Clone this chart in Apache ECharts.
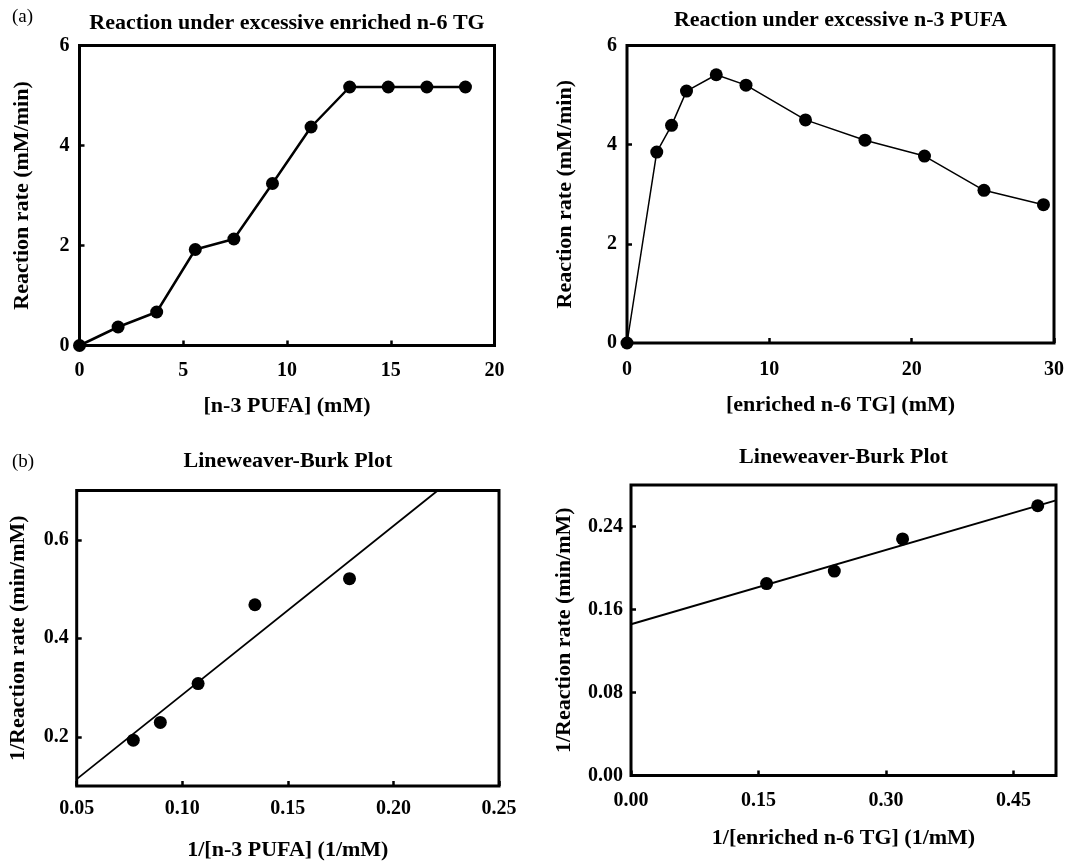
<!DOCTYPE html>
<html>
<head>
<meta charset="utf-8">
<script src="https://cdn.jsdelivr.net/npm/echarts@6/dist/echarts.min.js"></script>
<style>
html,body{margin:0;padding:0;background:#fff;}
#c{width:1067px;height:862px;}
</style>
</head>
<body>
<div id="c"></div>
<script>
// Panel (a) left: reaction under excessive enriched n-6 TG
var p1X = [0, 1.86, 3.72, 5.58, 7.44, 9.3, 11.16, 13.02, 14.88, 16.74, 18.6];
var p1Y = [0, 0.37, 0.67, 1.92, 2.13, 3.24, 4.37, 5.17, 5.17, 5.17, 5.17];
// Panel (a) right: reaction under excessive n-3 PUFA
var p2X = [0, 2.09, 3.13, 4.18, 6.27, 8.36, 12.54, 16.72, 20.9, 25.08, 29.26];
var p2Y = [0, 3.85, 4.39, 5.08, 5.41, 5.2, 4.5, 4.09, 3.77, 3.08, 2.79];
// Panel (b) left: Lineweaver-Burk (n-3 PUFA)
var p3X = [0.0768, 0.0896, 0.1075, 0.1344, 0.1792];
var p3Y = [0.193, 0.229, 0.308, 0.468, 0.521];
var p3FitX = [0.05, 0.221];
var p3FitY = [0.114, 0.70];
// Panel (b) right: Lineweaver-Burk (enriched n-6 TG)
var p4X = [0.1595, 0.2392, 0.3195, 0.4785];
var p4Y = [0.185, 0.197, 0.228, 0.26];
var p4FitX = [0, 0.5];
var p4FitY = [0.1458, 0.2652];

// tick labels
var p1XTicks = [0, 5, 10, 15, 20];
var p1YTicks = [0, 2, 4, 6];
var p2XTicks = [0, 10, 20, 30];
var p2YTicks = [0, 2, 4, 6];
var p3XTicks = [0.05, 0.10, 0.15, 0.20, 0.25];
var p3YTicks = [0.2, 0.4, 0.6];
var p4XTicks = [0, 0.15, 0.30, 0.45];
var p4YTicks = [0, 0.08, 0.16, 0.24];

var titles = ['Reaction under excessive enriched n-6 TG', 'Reaction under excessive n-3 PUFA', 'Lineweaver-Burk Plot', 'Lineweaver-Burk Plot'];
var xNames = ['[n-3 PUFA] (mM)', '[enriched n-6 TG] (mM)', '1/[n-3 PUFA] (1/mM)', '1/[enriched n-6 TG] (1/mM)'];
var yNames = ['Reaction rate (mM/min)', 'Reaction rate (mM/min)', '1/Reaction rate (min/mM)', '1/Reaction rate (min/mM)'];

function zip(a, b) { return a.map(function (v, i) { return [v, b[i]]; }); }

var FONT = '"Liberation Serif", "Times New Roman", serif';
var grids = [
  {left: 79.5, top: 45.5, width: 415, height: 300},
  {left: 627, top: 45.5, width: 427, height: 297.5},
  {left: 76.7, top: 490.5, width: 422.3, height: 296.5},
  {left: 631, top: 485, width: 425, height: 290.5}
];
var titleTops = [12, 9, 450, 446];
var xNameGaps = [50, 51, 53, 52];
var yNameGaps = [46, 51, 47, 56];
var xMargins = [15, 17, 13, 15];
var yMargins = [10, 10, 8, 8];
var xRanges = [[0, 20], [0, 30], [0.05, 0.25], [0, 0.5]];
var yRanges = [[0, 6], [0, 6], [0.1, 0.7], [0, 0.28]];
var xTicks = [p1XTicks, p2XTicks, p3XTicks, p4XTicks];
var yTicks = [p1YTicks, p2YTicks, p3YTicks, p4YTicks];
var xFmt = [0, 0, 2, 2];
var yFmt = [0, 0, 1, 2];

var option = {
  animation: false,
  backgroundColor: '#fff',
  title: [],
  grid: [],
  xAxis: [],
  yAxis: [],
  series: [],
  graphic: [
    {type: 'text', left: 12, top: 8, style: {text: '(a)', font: '19px ' + FONT, fill: '#000'}},
    {type: 'text', left: 12, top: 453, style: {text: '(b)', font: '19px ' + FONT, fill: '#000'}}
  ]
};

for (var i = 0; i < 4; i++) {
  var g = grids[i];
  option.grid.push({left: g.left, top: g.top, width: g.width, height: g.height, show: true, borderColor: '#000', borderWidth: 3, backgroundColor: 'transparent', containLabel: false});
  option.title.push({
    text: titles[i], left: g.left + g.width / 2, top: titleTops[i], textAlign: 'center', padding: 0,
    textStyle: {fontFamily: FONT, fontWeight: 'bold', fontSize: 22, color: '#000'}
  });
  (function (i) {
    option.xAxis.push({
      type: 'value', gridIndex: i, min: xRanges[i][0], max: xRanges[i][1],
      name: xNames[i], nameLocation: 'middle', nameGap: xNameGaps[i],
      nameTextStyle: {fontFamily: FONT, fontWeight: 'bold', fontSize: 22, color: '#000'},
      axisLine: {show: false},
      axisTick: {show: true, inside: true, length: 5, lineStyle: {color: '#000', width: 2.5}, customValues: xTicks[i]},
      axisLabel: {show: true, margin: xMargins[i], customValues: xTicks[i], fontFamily: FONT, fontWeight: 'bold', fontSize: 20, color: '#000',
        formatter: function (v) { return Number(v).toFixed(xFmt[i]); }},
      splitLine: {show: false}
    });
    option.yAxis.push({
      type: 'value', gridIndex: i, min: yRanges[i][0], max: yRanges[i][1],
      name: yNames[i], nameLocation: 'middle', nameGap: yNameGaps[i], nameRotate: 90,
      nameTextStyle: {fontFamily: FONT, fontWeight: 'bold', fontSize: 22, color: '#000'},
      axisLine: {show: false},
      axisTick: {show: true, inside: true, length: 5, lineStyle: {color: '#000', width: 2.5}, customValues: yTicks[i]},
      axisLabel: {show: true, margin: yMargins[i], customValues: yTicks[i], fontFamily: FONT, fontWeight: 'bold', fontSize: 20, color: '#000',
        formatter: function (v) { return Number(v).toFixed(yFmt[i]); }},
      splitLine: {show: false}
    });
  })(i);
}

var dot = {color: '#000', opacity: 1};
option.series.push({
  type: 'line', xAxisIndex: 0, yAxisIndex: 0, data: zip(p1X, p1Y),
  symbol: 'circle', symbolSize: 13, lineStyle: {color: '#000', width: 2.5}, itemStyle: dot
});
option.series.push({
  type: 'line', xAxisIndex: 1, yAxisIndex: 1, data: zip(p2X, p2Y),
  symbol: 'circle', symbolSize: 13, lineStyle: {color: '#000', width: 1.5}, itemStyle: dot
});
option.series.push({
  type: 'line', xAxisIndex: 2, yAxisIndex: 2, data: zip(p3FitX, p3FitY),
  symbol: 'none', lineStyle: {color: '#000', width: 1.8}
});
option.series.push({
  type: 'scatter', xAxisIndex: 2, yAxisIndex: 2, data: zip(p3X, p3Y),
  symbol: 'circle', symbolSize: 13, itemStyle: dot
});
option.series.push({
  type: 'line', xAxisIndex: 3, yAxisIndex: 3, data: zip(p4FitX, p4FitY),
  symbol: 'none', lineStyle: {color: '#000', width: 2}
});
option.series.push({
  type: 'scatter', xAxisIndex: 3, yAxisIndex: 3, data: zip(p4X, p4Y),
  symbol: 'circle', symbolSize: 13, itemStyle: dot
});

var chart = echarts.init(document.getElementById('c'), null, {renderer: 'canvas'});
chart.setOption(option);
</script>
</body>
</html>
